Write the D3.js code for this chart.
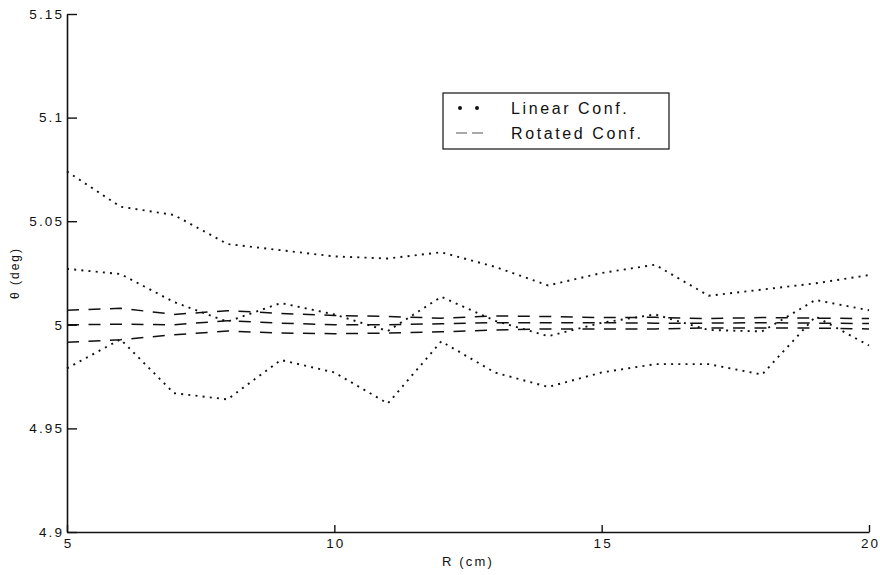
<!DOCTYPE html>
<html>
<head>
<meta charset="utf-8">
<script src="https://cdn.jsdelivr.net/npm/d3@7"></script>
<style>
  html, body { margin: 0; padding: 0; background: #fff; }
  svg { display: block; }
  text { font-family: "Liberation Sans", Arial, sans-serif; fill: #111; }
</style>
</head>
<body>
<svg id="chart" width="880" height="575"></svg>
<script>
// Radius positions (cm)
const radius = [5, 6, 7, 8, 9, 10, 11, 12, 13, 14, 15, 16, 17, 18, 19, 20];

// Linear configuration: mean and confidence bounds (deg)
const linearUpper = [5.074, 5.057, 5.053, 5.039, 5.036, 5.033, 5.032, 5.035, 5.028, 5.019, 5.025, 5.029, 5.014, 5.017, 5.020, 5.024];
const linearMean  = [5.027, 5.0245, 5.011, 5.0015, 5.0105, 5.005, 4.997, 5.0135, 5.002, 4.9945, 5.001, 5.005, 4.9975, 4.9968, 5.012, 5.007];
const linearLower = [4.979, 4.993, 4.967, 4.964, 4.983, 4.977, 4.962, 4.992, 4.977, 4.970, 4.977, 4.981, 4.981, 4.976, 5.004, 4.990];

// Rotated configuration: mean and confidence bounds (deg)
const rotatedUpper = [5.007, 5.008, 5.005, 5.0068, 5.0055, 5.0045, 5.004, 5.0032, 5.0043, 5.004, 5.0035, 5.0036, 5.003, 5.0035, 5.0032, 5.003];
const rotatedMean  = [5.0, 5.0003, 5.0, 5.002, 5.0008, 5.0, 5.0, 5.0005, 5.001, 5.001, 5.001, 5.0008, 5.0008, 5.001, 5.0008, 5.0006];
const rotatedLower = [4.9916, 4.9928, 4.9952, 4.997, 4.996, 4.9957, 4.996, 4.9966, 4.9975, 4.998, 4.998, 4.998, 4.9985, 4.9985, 4.9984, 4.998];

// Axis ticks and labels
const xTicks = [5, 10, 15, 20];
const xTickLabels = ["5", "10", "15", "20"];
const yTicks = [4.9, 4.95, 5, 5.05, 5.1, 5.15];
const yTickLabels = ["4.9", "4.95", "5", "5.05", "5.1", "5.15"];
const legendLabels = ["Linear Conf.", "Rotated Conf."];

const svg = d3.select("#chart");
const plot = { left: 67, right: 869, top: 14, bottom: 532 };

const x = d3.scaleLinear().domain([5, 20]).range([plot.left, plot.right]);
const y = d3.scaleLinear().domain([4.9, 5.15]).range([plot.bottom, plot.top]);

const line = d3.line()
  .x((d, i) => x(radius[i]))
  .y(d => y(d));

// Series
const dotted = { dash: "2,5.2", width: 1.9 };
const dashed = { dash: "12,9.5", width: 1.5 };
const series = [
  { values: linearUpper, style: dotted },
  { values: linearMean, style: dotted },
  { values: linearLower, style: dotted },
  { values: rotatedUpper, style: dashed },
  { values: rotatedMean, style: dashed },
  { values: rotatedLower, style: dashed }
];

svg.append("g").selectAll("path")
  .data(series)
  .join("path")
  .attr("d", s => line(s.values))
  .attr("fill", "none")
  .attr("stroke", "#111")
  .attr("stroke-width", s => s.style.width)
  .attr("stroke-dasharray", s => s.style.dash);

// Axes (ticks point inward)
const yAxis = d3.axisLeft(y)
  .tickValues(yTicks)
  .tickFormat((d, i) => yTickLabels[i])
  .tickSizeInner(-10)
  .tickSizeOuter(0)
  .tickPadding(3);

const xAxis = d3.axisBottom(x)
  .tickValues(xTicks)
  .tickFormat((d, i) => xTickLabels[i])
  .tickSizeInner(-7)
  .tickSizeOuter(0)
  .tickPadding(6);

const gy = svg.append("g")
  .attr("transform", `translate(${plot.left},0)`)
  .call(yAxis);
const gx = svg.append("g")
  .attr("transform", `translate(0,${plot.bottom})`)
  .call(xAxis);

[gx, gy].forEach(g => {
  g.select(".domain").attr("stroke", "#111").attr("stroke-width", 1.6);
  g.selectAll(".tick line").attr("stroke", "#111").attr("stroke-width", 1.4);
  g.selectAll(".tick text")
    .attr("fill", "#111")
    .style("font-size", "13.5px")
    .style("letter-spacing", "2.1px")
    .style("font-family", "'Liberation Sans', Arial, sans-serif");
});
gx.selectAll(".tick text").attr("dx", "1px");

// Axis titles
svg.append("text")
  .attr("x", (plot.left + plot.right) / 2)
  .attr("y", 566)
  .attr("text-anchor", "middle")
  .style("font-size", "13px")
  .style("letter-spacing", "2.2px")
  .text("R (cm)");

svg.append("text")
  .attr("transform", `translate(19,${(plot.top + plot.bottom) / 2}) rotate(-90)`)
  .attr("text-anchor", "middle")
  .style("font-size", "12px")
  .style("letter-spacing", "2px")
  .text("θ (deg)");

// Legend
const legend = svg.append("g");
legend.append("rect")
  .attr("x", 443).attr("y", 93)
  .attr("width", 226).attr("height", 56)
  .attr("fill", "#fff")
  .attr("stroke", "#111")
  .attr("stroke-width", 1.2);

legend.append("line")
  .attr("x1", 460).attr("x2", 478)
  .attr("y1", 108).attr("y2", 108)
  .attr("stroke", "#111")
  .attr("stroke-width", 4)
  .attr("stroke-linecap", "round")
  .attr("stroke-dasharray", "0,17");

legend.append("line")
  .attr("x1", 456).attr("x2", 487)
  .attr("y1", 133).attr("y2", 133)
  .attr("stroke", "#555")
  .attr("stroke-width", 1)
  .attr("stroke-dasharray", "11,5");

legend.selectAll("text.label")
  .data(legendLabels)
  .join("text")
  .attr("class", "label")
  .attr("x", 511)
  .attr("y", (d, i) => 114 + i * 25)
  .style("font-size", "16px")
  .style("letter-spacing", "2.6px")
  .text(d => d);
</script>
</body>
</html>
